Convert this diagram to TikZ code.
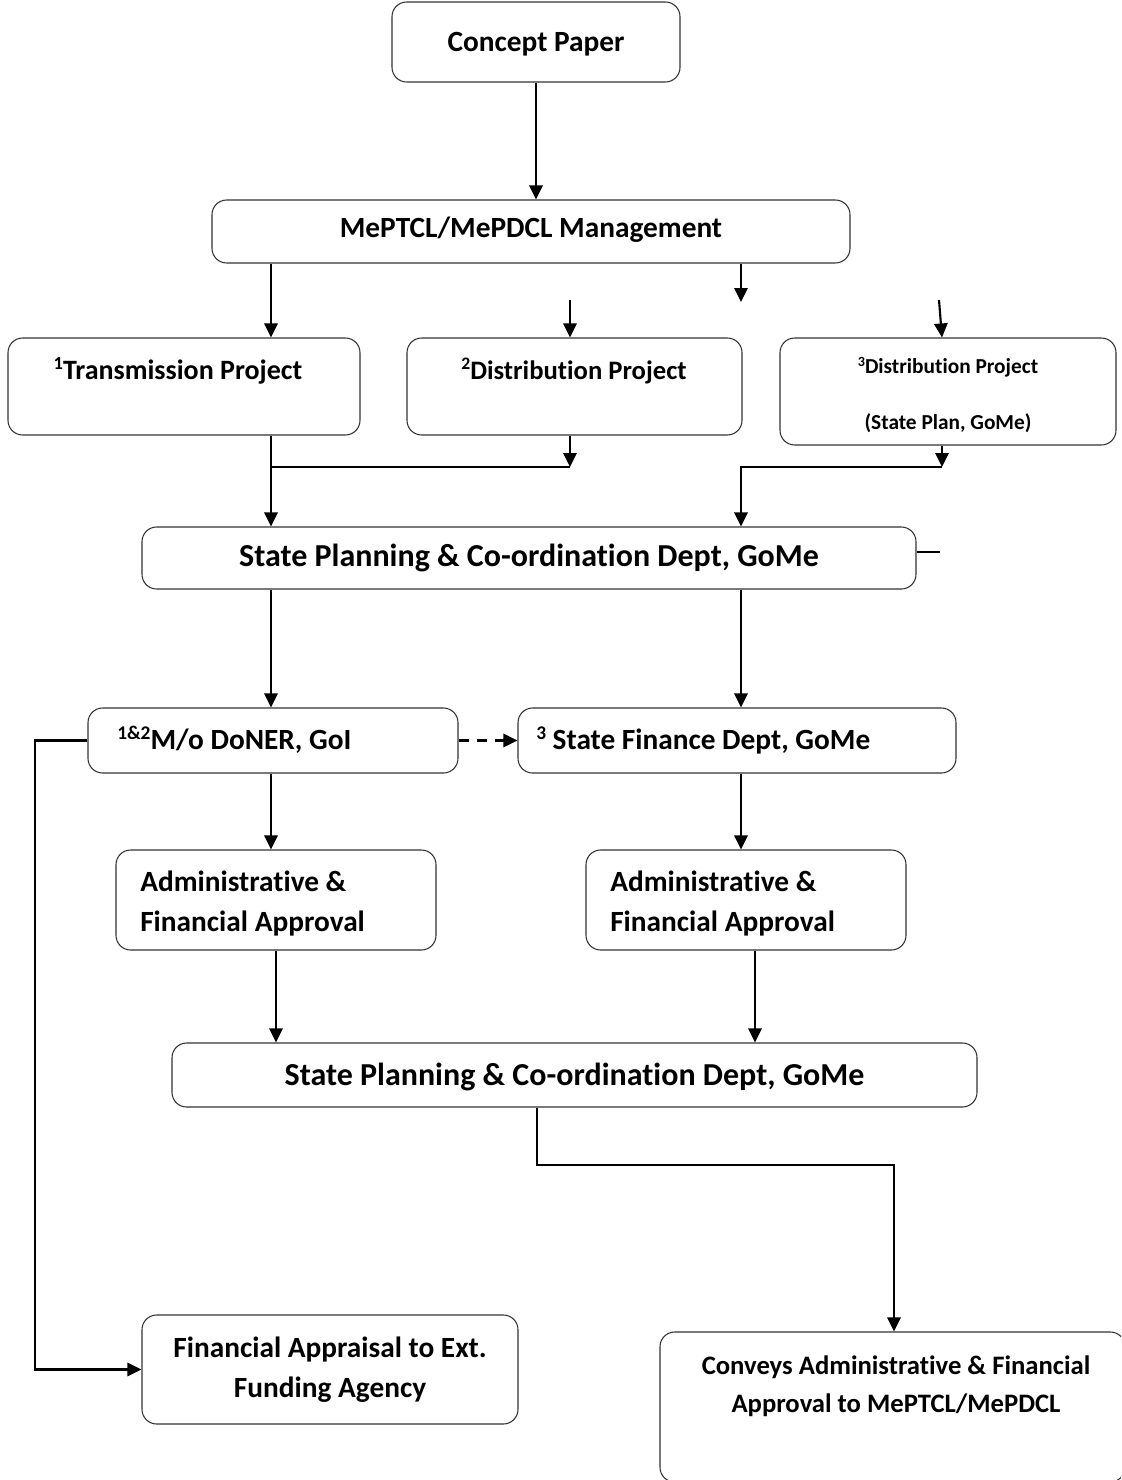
\documentclass[tikz,border=0pt]{standalone}
\usepackage{fontspec}
\setmainfont{Carlito}[Ligatures=NoCommon]
\usetikzlibrary{arrows.meta,calc}
\makeatletter
\newcommand\supx[1]{\raisebox{0.34\dimexpr\f@size pt\relax}{\fontsize{\strip@pt\dimexpr0.66\dimexpr\f@size pt\relax\relax}{1}\selectfont #1}}
\makeatother
\tikzset{
  box/.style={draw=black!80, line width=0.8pt, rounded corners=11pt, inner sep=0pt},
  arr/.style={line width=1.6pt, -{Triangle[length=10.5pt,width=10pt]}},
  ln/.style={line width=1.6pt},
  txt/.style={inner sep=0pt, font=\bfseries\fontsize{22}{30}\selectfont},
}
\begin{document}
\begin{tikzpicture}[x=0.75pt,y=-0.75pt]
\useasboundingbox (0,0) rectangle (1121,1480);
\clip (0,0) rectangle (1121,1480);
% boxes
\node[box, minimum width=216pt, minimum height=60pt] (cp) at (536,42) {};
\node[box, minimum width=478.5pt, minimum height=47.25pt] (mg) at (531,231.5) {};
\node[box, minimum width=264pt, minimum height=72.75pt] (tp) at (184,386.5) {};
\node[box, minimum width=251.25pt, minimum height=72.75pt] (d2) at (574.5,386.5) {};
\node[box, minimum width=252pt, minimum height=80.25pt] (d3) at (948,391.5) {};
\node[box, minimum width=580.5pt, minimum height=46.5pt] (sp1) at (529,558) {};
\node[box, minimum width=277.5pt, minimum height=48.75pt] (dn) at (273,740.5) {};
\node[box, minimum width=328.5pt, minimum height=48.75pt] (sf) at (737,740.5) {};
\node[box, minimum width=240pt, minimum height=75pt] (al) at (276,900) {};
\node[box, minimum width=240pt, minimum height=75pt] (ar) at (746,900) {};
\node[box, minimum width=603.75pt, minimum height=48pt] (sp2) at (574.5,1075) {};
\node[box, minimum width=282pt, minimum height=81.75pt] (fa) at (330,1369.5) {};
\node[box, minimum width=348.75pt, minimum height=112.5pt] (cv) at (892.5,1407) {};
% texts
\node[txt] (cpt) at (536,44) {Concept Paper};
\node[txt] (mgt) at (531,230) {MePTCL/MePDCL Management};
\node[txt, font=\bfseries\fontsize{21}{26}\selectfont] (tpt) at (178,371) {\supx{1}Transmission Project};
\node[txt, font=\bfseries\fontsize{20}{26}\selectfont] (d2t) at (574,371) {\supx{2}Distribution Project};
\node[txt, font=\bfseries\fontsize{16}{20}\selectfont] (d3a) at (948,367) {\supx{3}Distribution Project};
\node[txt, font=\bfseries\fontsize{16}{20}\selectfont] (d3b) at (948,423) {(State Plan, GoMe)};
\node[txt, font=\bfseries\fontsize{24}{28}\selectfont] (sp1t) at (529,558) {State Planning \& Co-ordination Dept, GoMe};
\node[txt, anchor=west] (dnt) at (117,740) {\supx{1\&2}M/o DoNER, GoI};
\node[txt, anchor=west] (sft) at (536,740) {\supx{3} State Finance Dept, GoMe};
\node[txt, anchor=west, align=left] (alt) at (140,904) {Administrative \&\\Financial Approval};
\node[txt, anchor=west, align=left] (art) at (610,904) {Administrative \&\\Financial Approval};
\node[txt, font=\bfseries\fontsize{24}{28}\selectfont] (sp2t) at (574.5,1077) {State Planning \& Co-ordination Dept, GoMe};
\node[txt, align=center] (fat) at (330,1370) {Financial Appraisal to Ext.\\Funding Agency};
\node[txt, align=center, font=\bfseries\fontsize{20}{28.5}\selectfont] (cvt) at (896,1386) {Conveys Administrative \& Financial\\Approval to MePTCL/MePDCL};
% free-end coordinates
\coordinate (f1) at (570,300);
\coordinate (f2) at (741,302);
\coordinate (f3) at (939,300);
\coordinate (j1) at (271,467);
\coordinate (j2) at (570,467);
\coordinate (j3) at (942,467);
\coordinate (j4) at (741,467);
\coordinate (s1) at (940,552);
\coordinate (k1) at (35,740.5);
\coordinate (k2) at (537,1165);
% connectors
\draw[arr] (cp.south) -- (cp.south |- mg.north);
\draw[arr] (mg.south -| 271,0) -- (tp.north -| 271,0);
\draw[arr] (f1) -- (d2.north -| f1);
\draw[arr] (mg.south -| f2) -- (f2);
\draw[arr] (f3) -- (d3.north -| 942,0);
\draw[arr] (tp.south -| j1) -- (sp1.north -| j1);
\draw[ln] (j1) -- (j2);
\draw[arr] (d2.south -| j2) -- (j2);
\draw[arr] (d3.south -| j3) -- (j3);
\draw[arr] (j3) -- (j4) -- (sp1.north -| j4);
\draw[ln] (sp1.east |- s1) -- (s1);
\draw[arr] (sp1.south -| 271,0) -- (dn.north -| 271,0);
\draw[arr] (sp1.south -| 741,0) -- (sf.north -| 741,0);
\draw[arr, dash pattern=on 7.5pt off 6pt] (dn.east) -- (sf.west);
\draw[arr] (dn.west) -- (k1) |- (fa.west);
\draw[arr] (dn.south -| 271,0) -- (al.north -| 271,0);
\draw[arr] (sf.south -| 741,0) -- (ar.north -| 741,0);
\draw[arr] (al.south -| 276,0) -- (sp2.north -| 276,0);
\draw[arr] (ar.south -| 755,0) -- (sp2.north -| 755,0);
\draw[arr] (sp2.south -| k2) -- (k2) -| (cv.north -| 894,0);
\end{tikzpicture}
\end{document}
